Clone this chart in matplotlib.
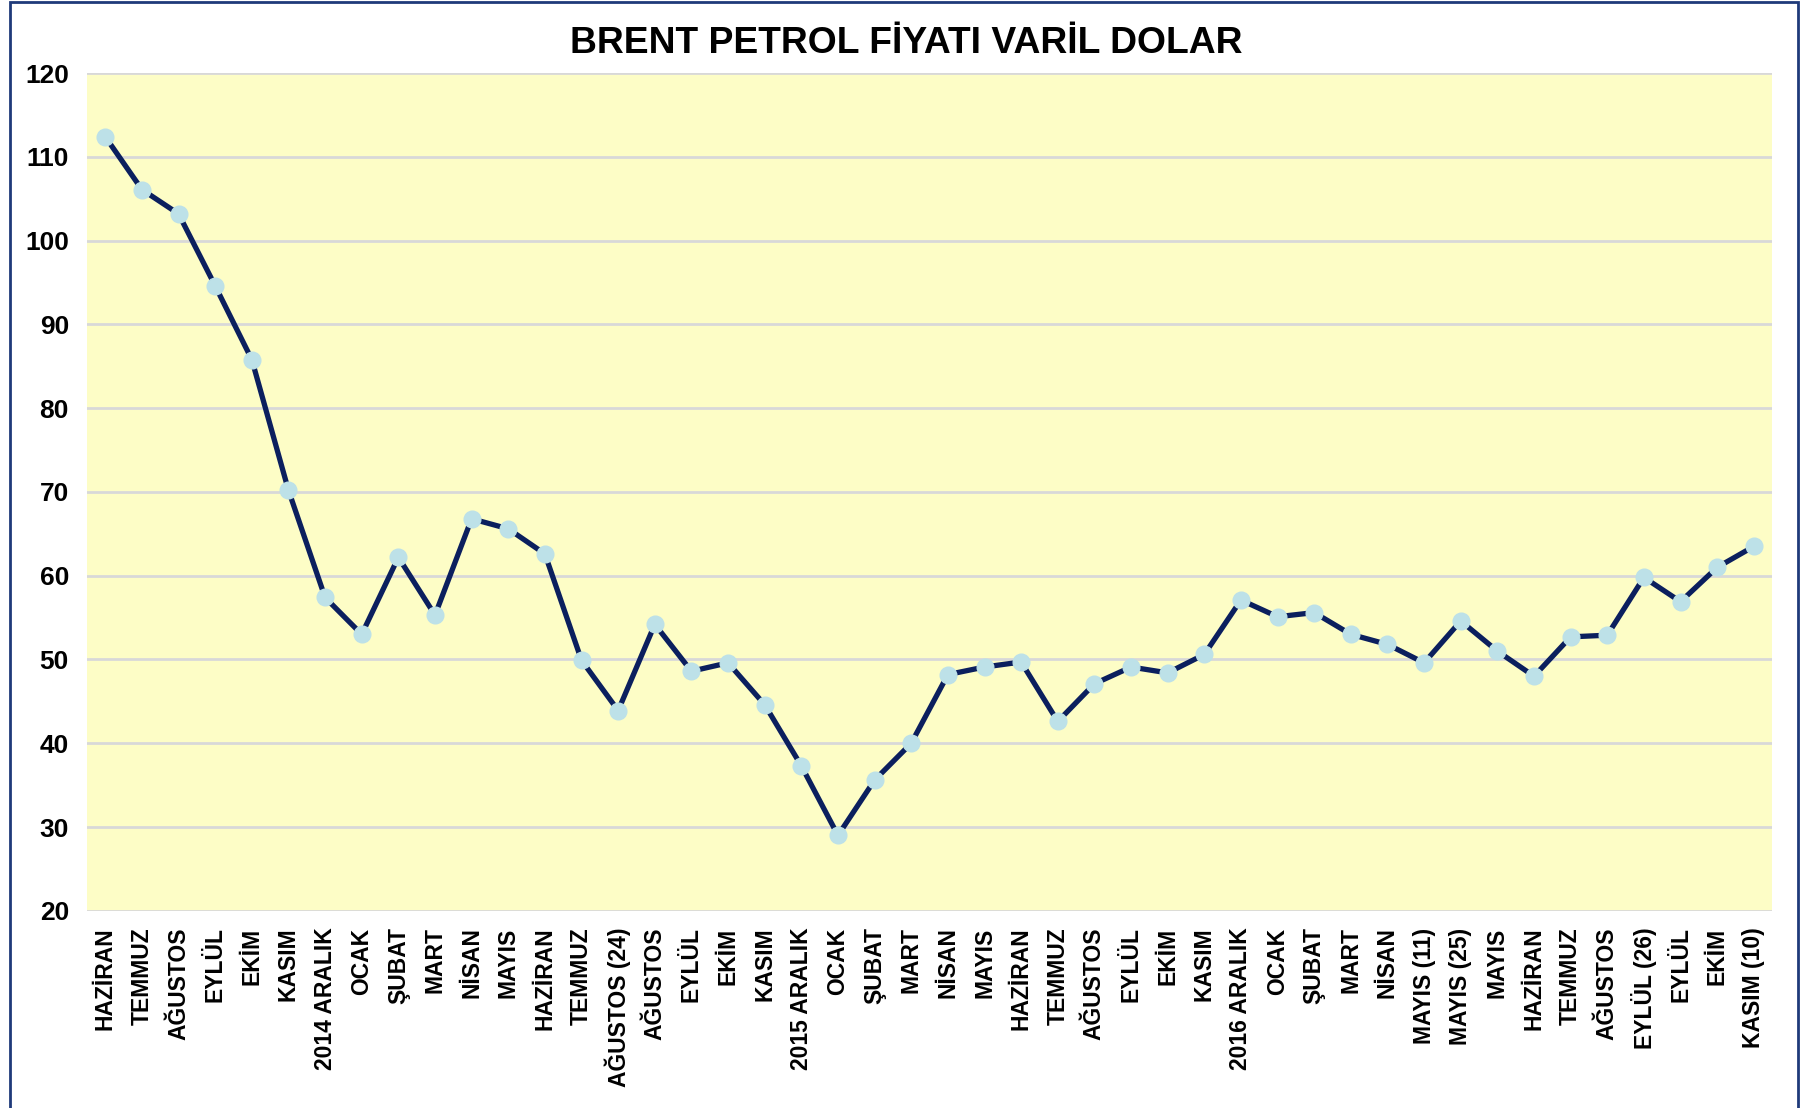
import matplotlib
matplotlib.use("Agg")
import matplotlib.pyplot as plt
from matplotlib import font_manager
from matplotlib.patches import Rectangle

# --- data ---
months = [
    "HAZİRAN", "TEMMUZ", "AĞUSTOS", "EYLÜL", "EKİM", "KASIM", "2014 ARALIK",
    "OCAK", "ŞUBAT", "MART", "NİSAN", "MAYIS", "HAZİRAN", "TEMMUZ",
    "AĞUSTOS (24)", "AĞUSTOS", "EYLÜL", "EKİM", "KASIM", "2015 ARALIK",
    "OCAK", "ŞUBAT", "MART", "NİSAN", "MAYIS", "HAZİRAN", "TEMMUZ",
    "AĞUSTOS", "EYLÜL", "EKİM", "KASIM", "2016 ARALIK",
    "OCAK", "ŞUBAT", "MART", "NİSAN", "MAYIS (11)", "MAYIS (25)", "MAYIS",
    "HAZİRAN", "TEMMUZ", "AĞUSTOS", "EYLÜL (26)", "EYLÜL", "EKİM", "KASIM (10)",
]
prices = [
    112.4, 106.1, 103.2, 94.6, 85.8, 70.2, 57.4,
    53.0, 62.2, 55.3, 66.8, 65.6, 62.6, 49.9,
    43.9, 54.2, 48.6, 49.6, 44.6, 37.3,
    29.0, 35.6, 40.0, 48.2, 49.1, 49.7, 42.6,
    47.1, 49.1, 48.4, 50.6, 57.1,
    55.1, 55.6, 53.0, 51.8, 49.6, 54.6, 51.0,
    48.0, 52.7, 52.9, 59.8, 56.9, 61.0, 63.5,
]
y_ticks = [20, 30, 40, 50, 60, 70, 80, 90, 100, 110, 120]

installed = {f.name for f in font_manager.fontManager.ttflist}
narrow = "Liberation Sans Narrow" if "Liberation Sans Narrow" in installed else "Liberation Sans"
plt.rcParams["font.family"] = ["Liberation Sans", "DejaVu Sans"]

fig = plt.figure(figsize=(18.12, 11.08), dpi=100)
ax = fig.add_axes([0.048, 0.178, 0.930, 0.756])

x = list(range(len(months)))
ax.plot(x, prices, color="#0b1f5e", linewidth=3.8, marker="o",
        markersize=12, markerfacecolor="#bde1e8", markeredgecolor="#bde1e8",
        zorder=3)

ax.set_facecolor("#fdfdc6")
ax.set_xlim(-0.5, len(months) - 0.5)
ax.set_ylim(20, 120)
ax.set_yticks(y_ticks)
ax.set_yticklabels([str(v) for v in y_ticks], fontsize=19, fontweight="bold",
                   family=[narrow, "DejaVu Sans"])
ax.set_xticks(x)
ax.set_xticklabels(months, rotation=90, fontsize=16.5, fontweight="bold")
ax.tick_params(axis="both", length=0)
ax.tick_params(axis="x", pad=12)
ax.tick_params(axis="y", pad=13)
ax.grid(axis="y", color="#d8d8d8", linewidth=2)
ax.set_axisbelow(True)
for s in ax.spines.values():
    s.set_visible(False)

fig.text(0.5, 0.961, "BRENT PETROL FİYATI VARİL DOLAR", ha="center",
         va="center", fontsize=26.8, fontweight="bold")

# outer navy frame
fig.patches.append(Rectangle((0.0055, -0.02), 0.987, 1.018,
                             transform=fig.transFigure, fill=False,
                             edgecolor="#1f3a7a", linewidth=2))

fig.savefig("out.png", dpi=100)
